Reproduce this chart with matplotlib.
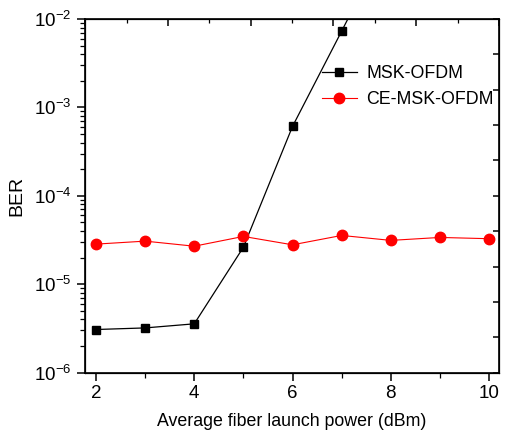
import matplotlib
matplotlib.use("Agg")
import matplotlib.pyplot as plt
from matplotlib.ticker import LogLocator, MultipleLocator, NullFormatter
import numpy as np

plt.rcParams["font.family"] = ["Liberation Sans", "DejaVu Sans"]
plt.rcParams["mathtext.fontset"] = "custom"
plt.rcParams["mathtext.rm"] = "Liberation Sans"
plt.rcParams["mathtext.it"] = "Liberation Sans"
plt.rcParams["mathtext.default"] = "regular"

# Data
power_msk = [2, 3, 4, 5, 6, 7, 8]
ber_msk = [3.07e-6, 3.2e-6, 3.56e-6, 2.62e-5, 6.1e-4, 7.3e-3, 9.0e-2]
power_ce = [2, 3, 4, 5, 6, 7, 8, 9, 10]
ber_ce = [2.84e-5, 3.07e-5, 2.69e-5, 3.47e-5, 2.79e-5, 3.56e-5, 3.13e-5, 3.38e-5, 3.27e-5]

fig = plt.figure(figsize=(5.07, 4.43), dpi=100)
ax = fig.add_axes([0.168, 0.159, 0.816, 0.798])

ax.plot(power_msk, ber_msk, color="black", lw=0.9, marker="s", ms=6.2,
        label="MSK-OFDM")
ax.plot(power_ce, ber_ce, color="red", lw=0.8, marker="o", ms=7.5,
        label="CE-MSK-OFDM")

ax.set_yscale("log")
ax.set_ylim(1e-6, 1e-2)
ax.set_xlim(1.78, 10.2)
ax.xaxis.set_major_locator(MultipleLocator(2))
ax.xaxis.set_minor_locator(MultipleLocator(1))
ax.yaxis.set_major_locator(LogLocator(base=10))
ax.yaxis.set_minor_locator(LogLocator(base=10, subs=np.arange(2, 10)))
ax.yaxis.set_minor_formatter(NullFormatter())

ax.tick_params(which="major", direction="out", length=6, width=1.1,
               labelsize=13.5, pad=3)
ax.tick_params(which="minor", direction="out", length=3.5, width=0.9)
ax.tick_params(axis="y", which="major", pad=4)
for s in ax.spines.values():
    s.set_linewidth(1.2)

# Origin style: top and right axes carry their own evenly spaced inward ticks
axt = ax.twiny()
axt.set_xlim(0, 10)
axt.xaxis.set_major_locator(MultipleLocator(2))
axt.xaxis.set_minor_locator(MultipleLocator(1))
axt.tick_params(which="major", direction="in", length=5, width=1.1,
                labeltop=False)
axt.tick_params(which="minor", direction="in", length=3, width=0.9)
axr = ax.twinx()
axr.set_ylim(0, 10)
axr.yaxis.set_major_locator(MultipleLocator(1))
axr.tick_params(direction="in", length=4, width=1.1, labelright=False)

ax.set_xlabel("Average fiber launch power (dBm)", fontsize=12.8, labelpad=8)
ax.set_ylabel("BER", fontsize=14, labelpad=6)

ax.legend(loc="upper left", bbox_to_anchor=(0.55, 0.895), frameon=False,
          fontsize=12.8, handlelength=2.0, handletextpad=0.5,
          labelspacing=0.5, borderpad=0)

fig.savefig("out.png", dpi=100)
